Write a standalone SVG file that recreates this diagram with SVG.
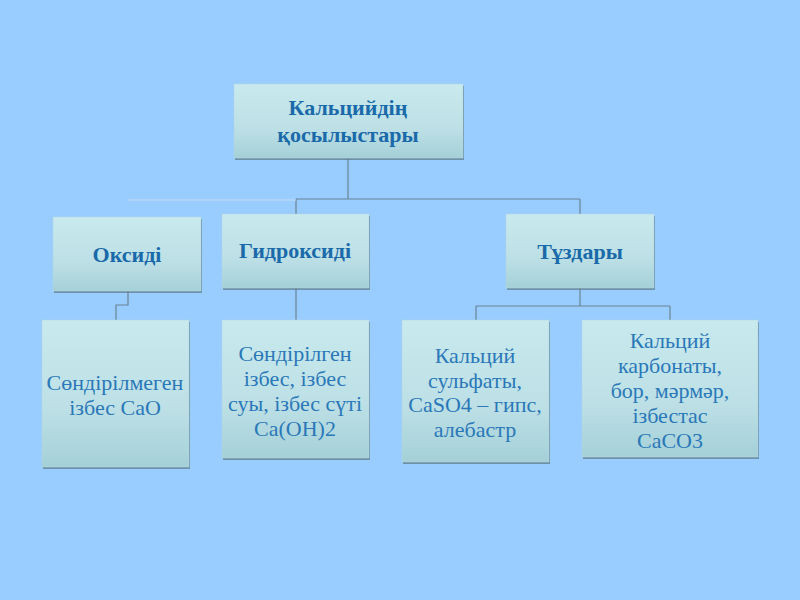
<svg xmlns="http://www.w3.org/2000/svg" width="800" height="600" viewBox="0 0 800 600">
<defs>
<linearGradient id="g" x1="0" y1="0" x2="0" y2="1">
<stop offset="0" stop-color="#c8eaee"/>
<stop offset="0.6" stop-color="#bde0e6"/>
<stop offset="1" stop-color="#a5d0d8"/>
</linearGradient>
<style>
.box{fill:url(#g);stroke:#b4d8de;stroke-width:0.5}
.sh{fill:#5f7f8c;opacity:0.75}
.h{font-family:"Liberation Serif","Times New Roman",serif;font-weight:bold;font-size:22px;fill:#1a6aaa;text-anchor:middle}
.t{font-family:"Liberation Serif","Times New Roman",serif;font-size:22px;fill:#2a78b8;text-anchor:middle}
.c{fill:none;stroke:#6a8494;stroke-width:1.2}
</style>
</defs>
<rect width="800" height="600" fill="#99ccff"/>
<g id="connectors">
<path class="c" d="M348 158V199M296 199H580M296 199V214M580 199V214"/>
<path d="M128 200H296" stroke="#c4dcee" stroke-width="1" fill="none"/>
<path class="c" d="M128 291V305H116V320"/>
<path class="c" d="M296 288V320"/>
<path class="c" d="M580 288V306M476 306H670M476 306V320M670 306V320"/>
</g>
<g id="root">
<rect class="sh" x="235" y="86" width="229" height="74"/>
<rect class="box" x="234" y="84" width="229" height="74"/>
<text class="h" x="348" y="115">Кальцийдің</text>
<text class="h" x="348" y="142">қосылыстары</text>
</g>
<g id="oksidi">
<rect class="sh" x="54" y="219" width="148" height="74"/>
<rect class="box" x="53" y="217" width="148" height="74"/>
<text class="h" x="127" y="262">Оксиді</text>
</g>
<g id="gidroksidi">
<rect class="sh" x="223" y="216" width="147" height="74"/>
<rect class="box" x="222" y="214" width="147" height="74"/>
<text class="h" x="295" y="258">Гидроксиді</text>
</g>
<g id="tuzdary">
<rect class="sh" x="507" y="216" width="148" height="74"/>
<rect class="box" x="506" y="214" width="148" height="74"/>
<text class="h" x="580" y="259">Тұздары</text>
</g>
<g id="oxide-item">
<rect class="sh" x="43" y="322" width="147" height="147"/>
<rect class="box" x="42" y="320" width="147" height="147"/>
<text class="t" x="115" y="390">Сөндірілмеген</text>
<text class="t" x="115" y="415">ізбес CaO</text>
</g>
<g id="hydroxide-item">
<rect class="sh" x="223" y="322" width="147" height="138"/>
<rect class="box" x="222" y="320" width="147" height="138"/>
<text class="t" x="295" y="361">Сөндірілген</text>
<text class="t" x="295" y="386">ізбес, ізбес</text>
<text class="t" x="295" y="411">суы, ізбес сүті</text>
<text class="t" x="295" y="436">Ca(OH)2</text>
</g>
<g id="sulfate-item">
<rect class="sh" x="403" y="322" width="147" height="142"/>
<rect class="box" x="402" y="320" width="147" height="142"/>
<text class="t" x="475" y="363">Кальций</text>
<text class="t" x="475" y="388">сульфаты,</text>
<text class="t" x="475" y="412">CaSO4 – гипс,</text>
<text class="t" x="475" y="437">алебастр</text>
</g>
<g id="carbonate-item">
<rect class="sh" x="583" y="322" width="176" height="137"/>
<rect class="box" x="582" y="320" width="176" height="137"/>
<text class="t" x="670" y="348">Кальций</text>
<text class="t" x="670" y="373">карбонаты,</text>
<text class="t" x="670" y="398">бор, мәрмәр,</text>
<text class="t" x="670" y="423">ізбестас</text>
<text class="t" x="670" y="448">CaCO3</text>
</g>
</svg>
